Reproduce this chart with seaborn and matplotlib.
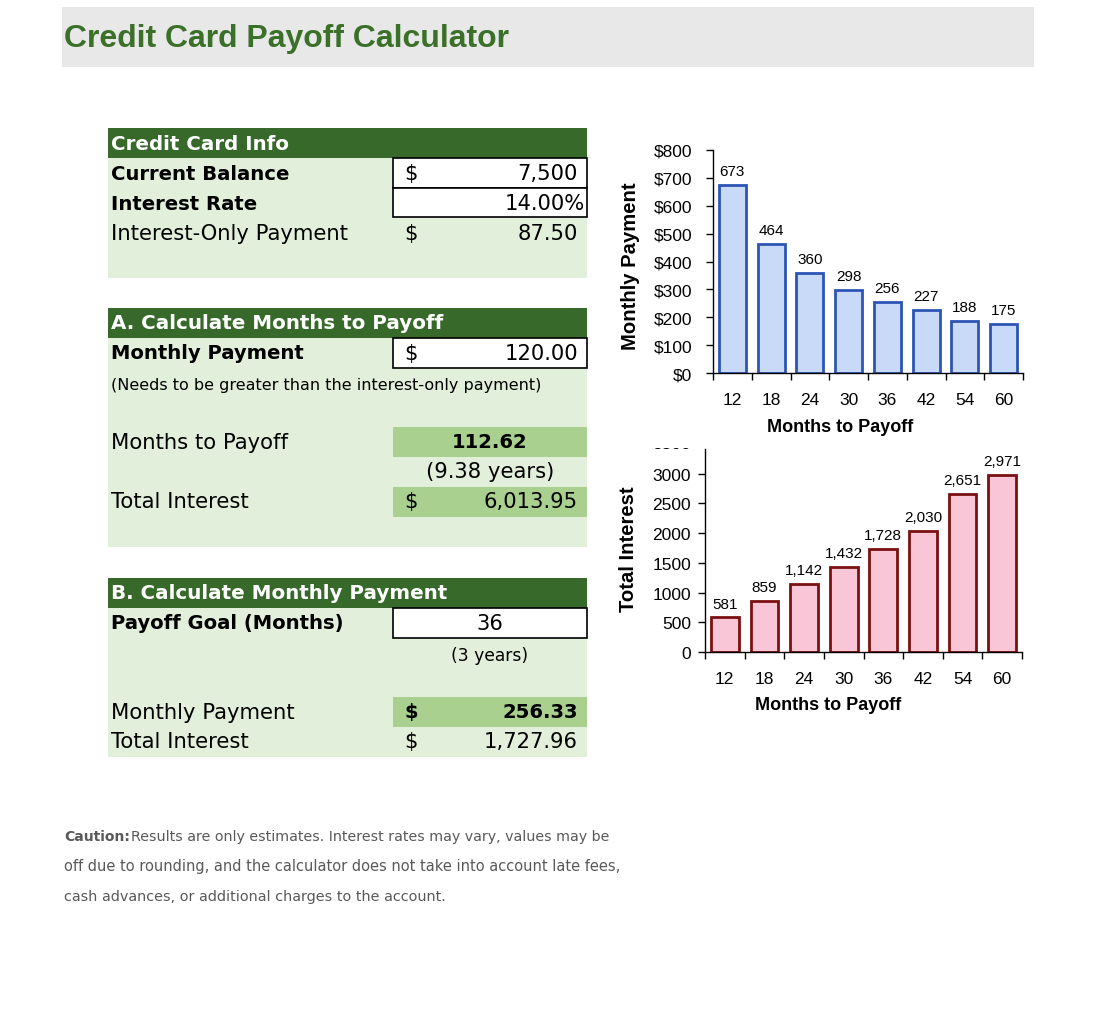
import numpy as np
import pandas as pd
import matplotlib.pyplot as plt
import seaborn as sns
from matplotlib.patches import Rectangle
from matplotlib.ticker import FuncFormatter, FixedLocator
from matplotlib.transforms import blended_transform_factory

# chart data
months = ["12", "18", "24", "30", "36", "42", "54", "60"]
monthly_payment = [673, 464, 360, 298, 256, 227, 188, 175]
total_interest = [581, 859, 1142, 1432, 1728, 2030, 2651, 2971]

# calculator values
balance = "7,500"
rate = "14.00%"
interest_only = "87.50"
payment_a = "120.00"
months_a = "112.62"
years_a = "(9.38 years)"
interest_a = "6,013.95"
goal_b = "36"
years_b = "(3 years)"
payment_b = "256.33"
interest_b = "1,727.96"

W, H = 1096, 1020
sns.set_theme(style="ticks")
plt.rcParams["font.family"] = ["Liberation Sans", "DejaVu Sans"]
plt.rcParams["text.color"] = "black"
plt.rcParams["axes.labelcolor"] = "black"

fig = plt.figure(figsize=(W / 100, H / 100), dpi=100)
fig.patch.set_facecolor("white")

# background layer in pixel coordinates for the sheet part
bg = fig.add_axes([0, 0, 1, 1], zorder=0)
bg.set_xlim(0, W)
bg.set_ylim(H, 0)
bg.axis("off")

DARK = "#37692a"
LIGHT = "#e2efda"
MID = "#a9d08e"
SHEET = "DejaVu Sans"
FS = 15.2   # regular sheet text
FB = 14.1   # bold sheet text


def box(x0, y0, x1, y1, fc, ec="none", lw=0):
    bg.add_patch(Rectangle((x0, y0), x1 - x0, y1 - y0, facecolor=fc,
                           edgecolor=ec, linewidth=lw))


def txt(x, y, s, size=FS, weight="normal", ha="left", color="black", family=SHEET):
    return bg.text(x, y, s, fontsize=size, fontweight=weight, ha=ha, va="center",
                   color=color, family=family)


# title
box(62, 8, 1034, 68, "#e8e8e8")
txt(64, 39, "Credit Card Payoff Calculator", 23, "bold", color="#3b7029",
    family="Liberation Sans")

# Credit Card Info
box(108, 129, 587, 159, DARK)
box(108, 159, 587, 279, LIGHT)
box(393, 159, 587, 189, "white", "black", 1.2)
box(393, 189, 587, 218, "white", "black", 1.2)
txt(111, 144, "Credit Card Info", 14.3, "bold", color="white")
txt(111, 174, "Current Balance", FB, "bold")
txt(404, 174, "$")
txt(578, 174, balance, ha="right")
txt(111, 204, "Interest Rate", FB, "bold")
txt(585, 204, rate, ha="right")
txt(111, 234, "Interest-Only Payment")
txt(404, 234, "$")
txt(578, 234, interest_only, ha="right")

# A. Calculate Months to Payoff
box(108, 309, 587, 339, DARK)
box(108, 339, 587, 548, LIGHT)
box(393, 339, 587, 369, "white", "black", 1.2)
txt(111, 324, "A. Calculate Months to Payoff", 14.3, "bold", color="white")
txt(111, 354, "Monthly Payment", FB, "bold")
txt(404, 354, "$")
txt(578, 354, payment_a, ha="right")
txt(111, 386, "(Needs to be greater than the interest-only payment)", 11.5)
box(393, 428, 587, 458, MID)
txt(111, 443, "Months to Payoff")
txt(490, 443, months_a, FB, "bold", ha="center")
txt(490, 472, years_a, ha="center")
box(393, 488, 587, 518, MID)
txt(111, 502, "Total Interest")
txt(404, 502, "$")
txt(578, 502, interest_a, ha="right")

# B. Calculate Monthly Payment
box(108, 579, 587, 609, DARK)
box(108, 609, 587, 758, LIGHT)
box(393, 609, 587, 639, "white", "black", 1.2)
txt(111, 594, "B. Calculate Monthly Payment", 14.3, "bold", color="white")
txt(111, 624, "Payoff Goal (Months)", FB, "bold")
txt(490, 624, goal_b, ha="center")
txt(490, 656, years_b, 12.3, ha="center")
box(393, 698, 587, 728, MID)
txt(111, 713, "Monthly Payment")
txt(404, 713, "$", FB, "bold")
txt(578, 713, payment_b, FB, "bold", ha="right")
txt(111, 742, "Total Interest")
txt(404, 742, "$")
txt(578, 742, interest_b, ha="right")

# caution note
GREY = "#595959"
txt(64, 837, "Caution:", 10, "bold", color=GREY)
txt(131, 837, "Results are only estimates. Interest rates may vary, values may be", 10.3, color=GREY)
txt(64, 867, "off due to rounding, and the calculator does not take into account late fees,", 10.5, color=GREY)
txt(64, 897, "cash advances, or additional charges to the account.", 10.4, color=GREY)


def style_bar_axis(ax, ylabel, ypad, xlab_xy, ylab_xy):
    ax.set_xlim(-0.5, len(months) - 0.5)
    for side in ["top", "right"]:
        ax.spines[side].set_visible(False)
    for side in ["left", "bottom"]:
        ax.spines[side].set_color("black")
        ax.spines[side].set_linewidth(1)
    ax.xaxis.set_minor_locator(FixedLocator(np.arange(-0.5, len(months), 1.0)))
    ax.tick_params(axis="x", which="major", length=0, pad=14, labelsize=12.5, colors="black")
    ax.tick_params(axis="x", which="minor", length=5, width=1, direction="out", color="black")
    ax.tick_params(axis="y", length=5, width=1, direction="out", pad=ypad, labelsize=12.5,
                   colors="black")
    xl = ax.set_xlabel("Months to Payoff", fontsize=13, fontweight="bold")
    yl = ax.set_ylabel(ylabel, fontsize=14.6, fontweight="bold")
    xl.set_verticalalignment("center")
    yl.set_verticalalignment("center")
    ax.xaxis.set_label_coords(*xlab_xy)
    ax.yaxis.set_label_coords(*ylab_xy)
    ax.set_facecolor("none")


# Monthly Payment chart
l1, r1, t1, b1 = 713, 1023, 151, 374
ax1 = fig.add_axes([l1 / W, 1 - b1 / H, (r1 - l1) / W, (b1 - t1) / H])
sns.barplot(x=months, y=monthly_payment, color="#c9daf8", edgecolor="#2d55b4",
            linewidth=2, width=0.7, saturation=1, ax=ax1)
ax1.set_ylim(0, 800)
ax1.set_yticks(np.arange(0, 801, 100))
ax1.yaxis.set_major_formatter(FuncFormatter(lambda v, p: f"${v:.0f}"))
style_bar_axis(ax1, "Monthly Payment", 10,
               ((840 - l1) / (r1 - l1), -(427 - b1) / (b1 - t1)),
               ((630 - l1) / (r1 - l1), (b1 - 266) / (b1 - t1)))
ax1.bar_label(ax1.containers[0], labels=[f"{v:,}" for v in monthly_payment],
              padding=5, fontsize=11, color="black")

# Total Interest chart
l2, r2, t2, b2 = 705, 1022, 450, 653
ax2 = fig.add_axes([l2 / W, 1 - b2 / H, (r2 - l2) / W, (b2 - t2) / H])
sns.barplot(x=months, y=total_interest, color="#f8c6d6", edgecolor="#7a1010",
            linewidth=2, width=0.7, saturation=1, ax=ax2)
ax2.set_ylim(0, 3415)
ax2.set_yticks(np.arange(0, 3001, 500))
style_bar_axis(ax2, "Total Interest", 5,
               ((828 - l2) / (r2 - l2), -(706 - b2) / (b2 - t2)),
               ((628 - l2) / (r2 - l2), (b2 - 549) / (b2 - t2)))
ax2.bar_label(ax2.containers[0], labels=[f"{v:,}" for v in total_interest],
              padding=5, fontsize=11, color="black")

# clipped top label left over from the spreadsheet chart
trans = blended_transform_factory(ax2.transAxes, ax2.transData)
cut = ax2.text(-0.045, 3500, "3500", transform=trans, ha="right", va="center",
               fontsize=12.5, color="black")
cut.set_clip_on(True)
cut.set_clip_box(None)
cut.set_clip_path(Rectangle((640, 448.5), 65, 4, transform=bg.transData))

fig.savefig("out.png", dpi=100, facecolor="white")
